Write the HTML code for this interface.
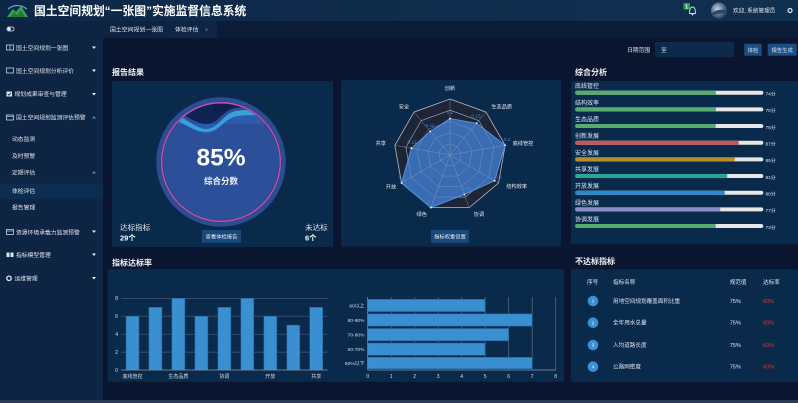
<!DOCTYPE html>
<html><head><meta charset="utf-8">
<style>
html,body{margin:0;padding:0;background:#0a152f;width:798px;height:403px;overflow:hidden}
svg{display:block}
text{font-family:"Liberation Sans","Noto Sans CJK SC",sans-serif}
</style></head>
<body>
<svg width="798" height="403" viewBox="0 0 798 403" xmlns="http://www.w3.org/2000/svg">
<defs>
<linearGradient id="hdr" x1="0" y1="0" x2="1" y2="0">
<stop offset="0" stop-color="#0e2747"/><stop offset="1" stop-color="#10304f"/>
</linearGradient>
<radialGradient id="av" cx="0.4" cy="0.4" r="0.7">
<stop offset="0" stop-color="#c8d4e0"/><stop offset="0.5" stop-color="#5f7a96"/><stop offset="1" stop-color="#1d3550"/>
</radialGradient>
<clipPath id="cc"><circle cx="221" cy="162" r="58.3"/></clipPath>
</defs>

<!-- backgrounds -->
<rect x="0" y="0" width="798" height="403" fill="#0a152f"/>
<rect x="0" y="0" width="798" height="21" fill="url(#hdr)"/>
<rect x="0" y="21" width="103" height="382" fill="#0e2443"/>
<rect x="103" y="21" width="695" height="17" fill="#0b1c38"/>
<rect x="103" y="21" width="64" height="17" fill="#0d2341"/>
<rect x="167" y="21" width="50" height="17" fill="#0e2645"/>
<rect x="0" y="400" width="798" height="3" fill="#2a3a52"/>

<!-- header -->
<g>
<path d="M7,17 L13,9 L16,12 L21,6 L28,17 Z" fill="#3da14e"/>
<path d="M10,17 L14,12 L17,15 L21,10 L25,17 Z" fill="#1f7a3a"/>
<path d="M8,9 Q17,2 27,9" fill="none" stroke="#43b3c8" stroke-width="1.3"/>
<text x="34" y="15" font-size="11.8" font-weight="bold" fill="#ffffff">国土空间规划“一张图”实施监督信息系统</text>
<rect x="683.5" y="3" width="6.5" height="6.5" fill="#23a24a"/>
<text x="686.7" y="8.3" font-size="5" font-weight="bold" fill="#fff" text-anchor="middle">1</text>
<path d="M689.5,13.5 Q689.5,7 692.5,7 Q695.5,7 695.5,13.5 Z" fill="none" stroke="#cfd8e3" stroke-width="0.9"/>
<circle cx="692.5" cy="14.6" r="0.9" fill="#cfd8e3"/>
<circle cx="719" cy="10.5" r="8" fill="url(#av)"/>
<path d="M712,13 Q719,8 727,11 L727,14 Q719,12 712,16 Z" fill="#2a4660"/>
<text x="733" y="12.5" font-size="5.6" fill="#e4eaf2">欢迎, 系统管理员</text>
<circle cx="790" cy="10.5" r="2" fill="none" stroke="#dfe6ee" stroke-width="1.2"/>
</g>

<!-- sidebar -->
<g font-size="5.8" fill="#dfe6ee">
<rect x="7" y="27" width="7" height="4" rx="2" fill="none" stroke="#e6ecf3" stroke-width="0.8"/>
<circle cx="9.2" cy="29" r="1.6" fill="#e6ecf3"/>

<rect x="6.5" y="45" width="7" height="5" fill="none" stroke="#dfe6ee" stroke-width="0.7"/>
<line x1="10" y1="45" x2="10" y2="50" stroke="#dfe6ee" stroke-width="0.6"/>
<text x="16" y="49.8">国土空间规划一张图</text>
<path d="M92,46.5 L96,46.5 L94,49 Z" fill="#e6ecf3"/>

<rect x="6.5" y="68" width="7" height="5" fill="none" stroke="#dfe6ee" stroke-width="0.7"/>
<text x="16" y="72.8">国土空间规划分析评价</text>
<path d="M92,69.5 L96,69.5 L94,72 Z" fill="#e6ecf3"/>

<rect x="6.5" y="91.5" width="5.5" height="5" fill="#dfe6ee"/>
<path d="M7.8,94 L9,95.3 L11,92.8" fill="none" stroke="#0e2443" stroke-width="0.8"/>
<text x="14.5" y="96.2">规划成果审查与管理</text>
<path d="M92,93 L96,93 L94,95.5 Z" fill="#e6ecf3"/>

<rect x="6.5" y="115" width="7" height="5" fill="none" stroke="#dfe6ee" stroke-width="0.7"/>
<line x1="6.5" y1="116.5" x2="13.5" y2="116.5" stroke="#dfe6ee" stroke-width="0.6"/>
<text x="16" y="119.5">国土空间规划监测评估预警</text>
<path d="M92,118.5 L96,118.5 L94,116 Z" fill="#3a8fd6"/>

<text x="12" y="141.2">动态监测</text>
<text x="12" y="157.9">及时预警</text>
<text x="12" y="174.5">定期评估</text>
<path d="M92,173.5 L96,173.5 L94,171 Z" fill="#3a8fd6"/>
<rect x="0" y="183.3" width="103" height="16" fill="#0b2d50"/>
<text x="12" y="193.2">体检评估</text>
<text x="12" y="209.5">报告管理</text>

<rect x="6.5" y="229.5" width="7" height="5" fill="none" stroke="#dfe6ee" stroke-width="0.7"/>
<line x1="6.5" y1="231" x2="13.5" y2="231" stroke="#dfe6ee" stroke-width="0.6"/>
<text x="16" y="234.3">资源环境承载力监测预警</text>
<path d="M92,230.5 L96,230.5 L94,233 Z" fill="#e6ecf3"/>

<rect x="6.5" y="252.5" width="3" height="4.5" fill="#dfe6ee"/>
<rect x="10.5" y="252.5" width="3" height="4.5" fill="#dfe6ee"/>
<text x="16" y="257.2">指标模型管理</text>
<path d="M92,253.5 L96,253.5 L94,256 Z" fill="#e6ecf3"/>

<circle cx="9" cy="278.3" r="2.2" fill="none" stroke="#dfe6ee" stroke-width="1.3"/>
<text x="14.5" y="280.5">运维管理</text>
<path d="M92,277 L96,277 L94,279.5 Z" fill="#e6ecf3"/>
</g>

<!-- tabs -->
<g font-size="5.9" fill="#dfe6ee">
<text x="110" y="31.3">国土空间规划一张图</text>
<text x="175" y="31.3">体检评估</text>
<text x="205" y="31.3" font-size="5" fill="#9aa8b8">×</text>
</g>

<!-- toolbar -->
<g font-size="5.8" fill="#dfe6ee">
<text x="627" y="52">日期范围</text>
<rect x="655" y="42" width="79" height="15.3" fill="#0d2a4c"/>
<text x="661" y="52">至</text>
<rect x="744.3" y="43.7" width="17.4" height="12" fill="#1b4f84"/>
<text x="753" y="51.8" text-anchor="middle" font-size="5.3">体检</text>
<rect x="767.7" y="43.7" width="29" height="12" fill="#1b4f84"/>
<text x="782.2" y="51.8" text-anchor="middle" font-size="5.3">报告生成</text>
</g>

<!-- section titles -->
<g font-size="8" font-weight="bold" fill="#f2f5f9">
<text x="112" y="75">报告结果</text>
<text x="575" y="75">综合分析</text>
<text x="112" y="265.5">指标达标率</text>
<text x="575" y="264">不达标指标</text>
</g>

<!-- panels -->
<rect x="112" y="81" width="221" height="166" rx="1.5" fill="#0a2a4b"/>
<rect x="341" y="80" width="220" height="166.5" rx="1.5" fill="#0a2a4b"/>
<rect x="571" y="81" width="227" height="163.3" rx="1.5" fill="#0a2a4b"/>
<rect x="107.5" y="269" width="456.5" height="112.7" rx="1.5" fill="#0a2a4b"/>
<rect x="571" y="269.3" width="227" height="112.7" rx="1.5" fill="#0a2a4b"/>

<!-- report circle -->
<g>
<circle cx="221" cy="162" r="62.4" fill="none" stroke="#2b4d92" stroke-width="4.6"/>
<circle cx="221" cy="162" r="60.2" fill="#0c1c40"/>
<circle cx="221" cy="162" r="58.3" fill="#2b4f99"/>
<g clip-path="url(#cc)">
<path d="M150,112 C172,110 190,134 206,134 C220,134 224,118 238,116 C256,113 272,116 292,118 L292,124 L150,124 Z" fill="#2a5cab"/>
<path d="M150,106 C172,104 192,129 206,129 C219,129 223,113 236,111 C254,108 272,110 292,112 L292,118 C272,116 254,114 238,116 C224,118 220,132 206,132 C190,132 172,112 150,114 Z" fill="#38a0dc"/>
<path d="M150,80 L292,80 L292,110 C272,108 254,106 236,108 C222,110 219,124 206,124 C192,124 174,104 150,104 Z" fill="#0f2452"/>
<path d="M200,80 L292,80 L292,104 C270,102 250,101 236,104 C226,106 222,112 215,114 C214,104 205,96 200,80 Z" fill="#0b1a44" opacity="0.6"/>
</g>
<circle cx="221" cy="162" r="59.3" fill="none" stroke="#be4fae" stroke-width="1.6"/>
<text x="221" y="165.5" text-anchor="middle" font-size="24.5" font-weight="bold" fill="#ffffff">85%</text>
<text x="221" y="184" text-anchor="middle" font-size="8.5" font-weight="bold" fill="#eef2f8">综合分数</text>
<text x="120" y="229.8" font-size="7.6" fill="#e0e7f0">达标指标</text>
<text x="120" y="240.6" font-size="7.4" font-weight="bold" fill="#ffffff">29个</text>
<text x="305" y="229.8" font-size="7.6" fill="#e0e7f0">未达标</text>
<text x="305" y="240.6" font-size="7.4" font-weight="bold" fill="#ffffff">6个</text>
<rect x="202" y="230" width="39" height="12.7" fill="#19497c"/>
<text x="221.5" y="238.3" text-anchor="middle" font-size="5.3" fill="#e6ecf3">查看体检报告</text>
</g>

<!-- radar -->
<g>
<g transform="translate(450,155)">
<polygon points="0,-56 36,-42.9 55.15,-9.72 48.5,28 19.15,52.62 -19.15,52.62 -48.5,28 -55.15,-9.72 -36,-42.9" fill="#1e2537" stroke="#b4b9c4" stroke-width="0.8"/>
<polygon transform="scale(0.8)" vector-effect="non-scaling-stroke" points="0,-56 36,-42.9 55.15,-9.72 48.5,28 19.15,52.62 -19.15,52.62 -48.5,28 -55.15,-9.72 -36,-42.9" fill="#1c2436" stroke="#9aa1ae" stroke-width="0.6"/>
<polygon points="0,-36.4 26.64,-31.74 55.15,-9.72 44.62,25.76 14.36,39.47 -19.15,52.62 -48.5,28 -38.6,-6.8 -19.8,-23.6" fill="#3a6cb4" stroke="#4d96e6" stroke-width="0.9"/>
<g fill="none" stroke="#8f9fbe" stroke-width="0.45" opacity="0.85">
<polygon transform="scale(0.8)" vector-effect="non-scaling-stroke" points="0,-56 36,-42.9 55.15,-9.72 48.5,28 19.15,52.62 -19.15,52.62 -48.5,28 -55.15,-9.72 -36,-42.9"/>
<polygon transform="scale(0.6)" vector-effect="non-scaling-stroke" points="0,-56 36,-42.9 55.15,-9.72 48.5,28 19.15,52.62 -19.15,52.62 -48.5,28 -55.15,-9.72 -36,-42.9"/>
<polygon transform="scale(0.4)" vector-effect="non-scaling-stroke" points="0,-56 36,-42.9 55.15,-9.72 48.5,28 19.15,52.62 -19.15,52.62 -48.5,28 -55.15,-9.72 -36,-42.9"/>
<polygon transform="scale(0.2)" vector-effect="non-scaling-stroke" points="0,-56 36,-42.9 55.15,-9.72 48.5,28 19.15,52.62 -19.15,52.62 -48.5,28 -55.15,-9.72 -36,-42.9"/>
<line x1="0" y1="0" x2="0" y2="-56"/>
<line x1="0" y1="0" x2="36" y2="-42.9"/>
<line x1="0" y1="0" x2="55.15" y2="-9.72"/>
<line x1="0" y1="0" x2="48.5" y2="28"/>
<line x1="0" y1="0" x2="19.15" y2="52.62"/>
<line x1="0" y1="0" x2="-19.15" y2="52.62"/>
<line x1="0" y1="0" x2="-48.5" y2="28"/>
<line x1="0" y1="0" x2="-55.15" y2="-9.72"/>
<line x1="0" y1="0" x2="-36" y2="-42.9"/>
</g>
<g fill="#ffffff">
<circle cx="0" cy="-36.4" r="0.9"/><circle cx="26.64" cy="-31.74" r="0.9"/><circle cx="55.15" cy="-9.72" r="0.9"/>
<circle cx="44.62" cy="25.76" r="0.9"/><circle cx="14.36" cy="39.47" r="0.9"/><circle cx="-19.15" cy="52.62" r="0.9"/>
<circle cx="-48.5" cy="28" r="0.9"/><circle cx="-38.6" cy="-6.8" r="0.9"/><circle cx="-19.8" cy="-23.6" r="0.9"/>
</g>
</g>
<g font-size="4.8" fill="#4a86d2" text-anchor="middle">
<text x="450" y="114">0.2</text>
<text x="476" y="117.5">0.15</text>
<text x="507" y="141">0.2</text>
<text x="499" y="178.5">0.1</text>
<text x="466" y="190">0.15</text>
<text x="431" y="203.5">0.1</text>
<text x="402" y="178.5">0.1</text>
<text x="412" y="143.5">0.11</text>
<text x="430" y="127">0.11</text>
</g>
<g font-size="5.2" fill="#e2e8f0" text-anchor="middle">
<text x="450" y="90">创新</text>
<text x="501.7" y="108.5">生态品质</text>
<text x="523" y="145.2">底线管控</text>
<text x="516.7" y="187.8">结构效率</text>
<text x="479" y="215.8">协调</text>
<text x="421.7" y="215.8">绿色</text>
<text x="391" y="188.5">开放</text>
<text x="380.7" y="145.2">共享</text>
<text x="404" y="108.5">安全</text>
</g>
<rect x="431" y="230" width="38" height="12.7" fill="#19497c"/>
<text x="450" y="238.3" text-anchor="middle" font-size="5.3" fill="#e6ecf3">指标权重设置</text>
</g>

<!-- comprehensive analysis bars -->
<g font-size="6" fill="#e0e7f0">
<text x="575" y="88.2">底线管控</text>
<text x="575" y="104.9">结构效率</text>
<text x="575" y="121.5">生态品质</text>
<text x="575" y="138.2">创新发展</text>
<text x="575" y="154.9">安全发展</text>
<text x="575" y="171.5">共享发展</text>
<text x="575" y="188.2">开放发展</text>
<text x="575" y="204.9">绿色发展</text>
<text x="575" y="221.5">协调发展</text>
</g>
<g>
<rect x="575.3" y="90.7" width="188" height="4" rx="2" fill="#e6e6e6"/>
<rect x="575.3" y="90.7" width="140.5" height="4" rx="1" fill="#56ab6f"/>
<rect x="575.3" y="107.4" width="188" height="4" rx="2" fill="#e6e6e6"/>
<rect x="575.3" y="107.4" width="140.5" height="4" rx="1" fill="#56ab6f"/>
<rect x="575.3" y="124" width="188" height="4" rx="2" fill="#e6e6e6"/>
<rect x="575.3" y="124" width="140.5" height="4" rx="1" fill="#56ab6f"/>
<rect x="575.3" y="140.7" width="188" height="4" rx="2" fill="#e6e6e6"/>
<rect x="575.3" y="140.7" width="163.5" height="4" rx="1" fill="#c25a5c"/>
<rect x="575.3" y="157.4" width="188" height="4" rx="2" fill="#e6e6e6"/>
<rect x="575.3" y="157.4" width="159.5" height="4" rx="1" fill="#b68f2a"/>
<rect x="575.3" y="174" width="188" height="4" rx="2" fill="#e6e6e6"/>
<rect x="575.3" y="174" width="152" height="4" rx="1" fill="#27a894"/>
<rect x="575.3" y="190.7" width="188" height="4" rx="2" fill="#e6e6e6"/>
<rect x="575.3" y="190.7" width="149.5" height="4" rx="1" fill="#2a88cc"/>
<rect x="575.3" y="207.4" width="188" height="4" rx="2" fill="#e6e6e6"/>
<rect x="575.3" y="207.4" width="145" height="4" rx="1" fill="#8a8cc6"/>
<rect x="575.3" y="224" width="188" height="4" rx="2" fill="#e6e6e6"/>
<rect x="575.3" y="224" width="140.5" height="4" rx="1" fill="#56ab6f"/>
</g>
<g font-size="4.8" fill="#e0e7f0">
<text x="765.5" y="95.5">74分</text>
<text x="765.5" y="112.2">70分</text>
<text x="765.5" y="128.8">75分</text>
<text x="765.5" y="145.5">87分</text>
<text x="765.5" y="162.2">85分</text>
<text x="765.5" y="178.8">81分</text>
<text x="765.5" y="195.5">80分</text>
<text x="765.5" y="212.2">77分</text>
<text x="765.5" y="228.8">73分</text>
</g>

<!-- vertical bar chart -->
<g>
<g stroke="#525d6e" stroke-width="0.7">
<line x1="121" y1="298.3" x2="327.7" y2="298.3"/>
<line x1="121" y1="316.2" x2="327.7" y2="316.2"/>
<line x1="121" y1="334.2" x2="327.7" y2="334.2"/>
<line x1="121" y1="352.1" x2="327.7" y2="352.1"/>
</g>
<g fill="#3a8fd0" stroke="#22609a" stroke-width="0.6">
<rect x="126" y="316.2" width="13" height="53.8"/>
<rect x="148.9" y="307.3" width="13" height="62.7"/>
<rect x="171.9" y="298.3" width="13" height="71.7"/>
<rect x="194.9" y="316.2" width="13" height="53.8"/>
<rect x="217.9" y="307.3" width="13" height="62.7"/>
<rect x="240.8" y="298.3" width="13" height="71.7"/>
<rect x="263.8" y="316.2" width="13" height="53.8"/>
<rect x="286.8" y="325.2" width="13" height="44.8"/>
<rect x="309.7" y="307.3" width="13" height="62.7"/>
</g>
<line x1="121" y1="370" x2="327.7" y2="370" stroke="#8b95a5" stroke-width="0.7"/>
<g font-size="5" fill="#d6dde7" text-anchor="end">
<text x="118" y="300">8</text>
<text x="118" y="318">6</text>
<text x="118" y="336">4</text>
<text x="118" y="354">2</text>
<text x="118" y="372">0</text>
</g>
<g font-size="5" fill="#d6dde7" text-anchor="middle">
<text x="132.5" y="377.8">底线管控</text>
<text x="178.4" y="377.8">生态品质</text>
<text x="224.4" y="377.8">协调</text>
<text x="270.3" y="377.8">开放</text>
<text x="316.2" y="377.8">共享</text>
</g>
</g>

<!-- horizontal bar chart -->
<g>
<g stroke="#636d7d" stroke-width="0.7">
<line x1="391.2" y1="297" x2="391.2" y2="370"/>
<line x1="414.7" y1="297" x2="414.7" y2="370"/>
<line x1="438.2" y1="297" x2="438.2" y2="370"/>
<line x1="461.7" y1="297" x2="461.7" y2="370"/>
<line x1="485.2" y1="297" x2="485.2" y2="370"/>
<line x1="508.7" y1="297" x2="508.7" y2="370"/>
<line x1="532.2" y1="297" x2="532.2" y2="370"/>
<line x1="555.7" y1="297" x2="555.7" y2="370"/>
</g>
<g fill="#3a8fd0" stroke="#22609a" stroke-width="0.6">
<rect x="367.7" y="299.3" width="117.5" height="12.3"/>
<rect x="367.7" y="313.8" width="164.5" height="12.3"/>
<rect x="367.7" y="328.5" width="141" height="12.3"/>
<rect x="367.7" y="343" width="117.5" height="12.3"/>
<rect x="367.7" y="357.3" width="164.5" height="11.5"/>
</g>
<line x1="367.7" y1="297" x2="367.7" y2="370" stroke="#8b95a5" stroke-width="0.7"/>
<line x1="367.7" y1="370" x2="555.7" y2="370" stroke="#8b95a5" stroke-width="0.7"/>
<g font-size="4.9" fill="#d6dde7" text-anchor="end">
<text x="364.5" y="307.3">90以上</text>
<text x="364.5" y="321.8">80-90%</text>
<text x="364.5" y="336.4">70-80%</text>
<text x="364.5" y="350.9">60-70%</text>
<text x="364.5" y="364.9">60%以下</text>
</g>
<g font-size="5" fill="#d6dde7" text-anchor="middle">
<text x="367.7" y="377.8">0</text>
<text x="391.2" y="377.8">1</text>
<text x="414.7" y="377.8">2</text>
<text x="438.2" y="377.8">3</text>
<text x="461.7" y="377.8">4</text>
<text x="485.2" y="377.8">5</text>
<text x="508.7" y="377.8">6</text>
<text x="532.2" y="377.8">7</text>
<text x="555.7" y="377.8">8</text>
</g>
</g>

<!-- table -->
<g font-size="5.6" fill="#e0e7f0">
<text x="587" y="284">序号</text>
<text x="613" y="284">指标名称</text>
<text x="729.7" y="284">规范值</text>
<text x="763" y="284">达标率</text>
<circle cx="593" cy="301" r="5.3" fill="#3a8fd6"/>
<circle cx="593" cy="322.7" r="5.3" fill="#3a8fd6"/>
<circle cx="593" cy="345" r="5.3" fill="#3a8fd6"/>
<circle cx="593" cy="366.7" r="5.3" fill="#3a8fd6"/>
<g font-size="4.5" fill="#ffffff" text-anchor="middle">
<text x="593" y="302.6">1</text>
<text x="593" y="324.3">2</text>
<text x="593" y="346.6">3</text>
<text x="593" y="368.3">4</text>
</g>
<text x="613" y="303">用地空间规划覆盖面积比重</text>
<text x="613" y="324.7">全年用水总量</text>
<text x="613" y="347">人均道路长度</text>
<text x="613" y="368.7">公路网密度</text>
<text x="729.7" y="303">75%</text>
<text x="729.7" y="324.7">75%</text>
<text x="729.7" y="347">75%</text>
<text x="729.7" y="368.7">75%</text>
<g fill="#d9342f">
<text x="763" y="303">60%</text>
<text x="763" y="324.7">60%</text>
<text x="763" y="347">60%</text>
<text x="763" y="368.7">60%</text>
</g>
</g>
</svg>
</body></html>
